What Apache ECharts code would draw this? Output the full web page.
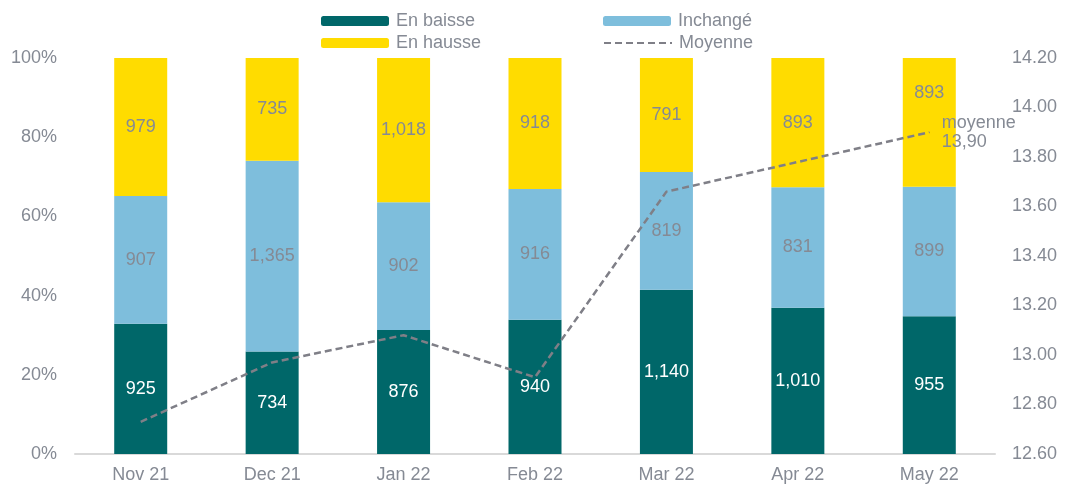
<!DOCTYPE html>
<html>
<head>
<meta charset="utf-8">
<script src="https://cdn.jsdelivr.net/npm/echarts@6/dist/echarts.min.js"></script>
<style>
  html, body { margin: 0; padding: 0; background: #fff; }
  #chart { width: 1065px; height: 486px; }
</style>
</head>
<body>
<div id="chart"></div>
<script>
var categories = ['Nov 21', 'Dec 21', 'Jan 22', 'Feb 22', 'Mar 22', 'Apr 22', 'May 22'];
var enBaisse = [925, 734, 876, 940, 1140, 1010, 955];
var inchange = [907, 1365, 902, 916, 819, 831, 899];
var enHausse = [979, 735, 1018, 918, 791, 893, 893];
var moyenne = [12.73, 12.97, 13.08, 12.91, 13.66, 13.78, 13.90];

var myChart = echarts.init(document.getElementById('chart'));

var textGray = '#858A94';
var lineGray = '#7F7F87';
var font = 'Liberation Sans, Arial, sans-serif';
var fs = 18;

function pct(arr) {
  return arr.map(function (v, i) {
    return v / (enBaisse[i] + inchange[i] + enHausse[i]) * 100;
  });
}

function barSeries(name, counts, color, labelColor) {
  return {
    name: name,
    type: 'bar',
    stack: 'total',
    barWidth: 53,
    itemStyle: { color: color },
    label: {
      show: true,
      color: labelColor,
      fontSize: fs,
      fontFamily: font,
      formatter: function (p) {
        return counts[p.dataIndex].toLocaleString('en-US');
      }
    },
    data: pct(counts)
  };
}

// only the last point carries a (tiny) symbol so its label can show
var lineData = moyenne.map(function (v, i) {
  if (i === moyenne.length - 1) {
    return {
      value: v,
      symbol: 'circle',
      symbolSize: 1,
      label: {
        show: true,
        position: 'right',
        distance: 12,
        align: 'left',
        color: textGray,
        fontSize: fs,
        fontFamily: font,
        lineHeight: 19,
        formatter: 'moyenne\n13,90'
      }
    };
  }
  return v;
});

function legendItem(item, left, top) {
  return {
    left: left,
    top: top,
    padding: 0,
    itemWidth: 68,
    itemHeight: 10,
    itemGap: 0,
    textStyle: { color: textGray, fontSize: fs, fontFamily: font, padding: [0, 0, 0, 2] },
    data: [item]
  };
}

var hausseSeries = barSeries('En hausse', enHausse, '#FFDC00', textGray);
// May label sits higher, out of the way of the line label
var last = hausseSeries.data.length - 1;
hausseSeries.data[last] = { value: hausseSeries.data[last], label: { offset: [0, -29] } };

var option = {
  animation: false,
  legend: [
    legendItem('En baisse', 321, 12),
    legendItem('Inchangé', 603, 12),
    legendItem('En hausse', 321, 34),
    legendItem({ name: 'Moyenne', itemStyle: { opacity: 0 } }, 603, 34)
  ],
  grid: {
    left: 75,
    right: 70,
    top: 58,
    bottom: 32
  },
  xAxis: {
    type: 'category',
    data: categories,
    axisTick: { show: false },
    axisLine: { lineStyle: { color: '#D9D9D9', width: 2 } },
    axisLabel: { color: textGray, fontSize: fs, fontFamily: font, margin: 12 }
  },
  yAxis: [
    {
      type: 'value',
      min: 0,
      max: 100,
      interval: 20,
      splitLine: { show: false },
      axisLine: { show: false },
      axisTick: { show: false },
      axisLabel: { color: textGray, fontSize: fs, fontFamily: font, margin: 18, formatter: '{value}%' }
    },
    {
      type: 'value',
      min: 12.6,
      max: 14.2,
      interval: 0.2,
      splitLine: { show: false },
      axisLine: { show: false },
      axisTick: { show: false },
      axisLabel: {
        color: textGray, fontSize: fs, fontFamily: font, margin: 17,
        formatter: function (v) { return v.toFixed(2); }
      }
    }
  ],
  series: [
    barSeries('En baisse', enBaisse, '#006769', '#ffffff'),
    barSeries('Inchangé', inchange, '#7EBEDC', textGray),
    hausseSeries,
    {
      name: 'Moyenne',
      type: 'line',
      yAxisIndex: 1,
      symbol: 'none',
      z: 5,
      lineStyle: { color: lineGray, width: 2.5, type: [7, 4] },
      itemStyle: { color: lineGray },
      data: lineData
    }
  ]
};

myChart.setOption(option);
</script>
</body>
</html>
